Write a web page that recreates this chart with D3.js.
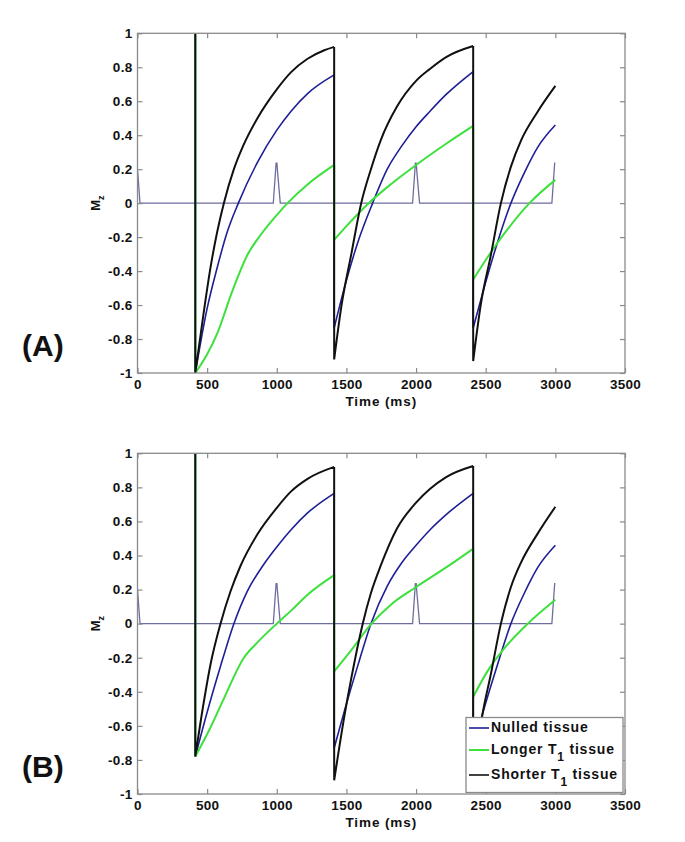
<!DOCTYPE html>
<html>
<head>
<meta charset="utf-8">
<script src="https://cdn.jsdelivr.net/npm/d3@7"></script>
<style>
  html, body { margin: 0; padding: 0; background: #fff; }
  svg { display: block; }
  text { font-family: "Liberation Sans", Arial, sans-serif; font-weight: bold; fill: #111; }
</style>
</head>
<body>
<svg id="chart" width="685" height="842"></svg>
<script>
// ---------------- data (time in ms, Mz) ----------------
const xTicks = [0, 500, 1000, 1500, 2000, 2500, 3000, 3500];
const yTicks = [-1, -0.8, -0.6, -0.4, -0.2, 0, 0.2, 0.4, 0.6, 0.8, 1];
const seriesNames = ["Nulled tissue", "Longer T1 tissue", "Shorter T1 tissue"];

// readout pulses (same in both panels)
const readout = [[0,0.2],[18,0],[975,0],[995,0.235],[1001,0.235],[1006,0.18],[1025,0],
  [1975,0],[1995,0.235],[2001,0.235],[2006,0.18],[2025,0],[2975,0],[2995,0.235],[3000,0.235]];

// Panel (A)
const nulledA = [[415,1],[415,-1],
  [500,-0.62],[572,-0.38],[644,-0.17],[724,0],[861,0.24],[1000,0.43],[1101,0.54],[1221,0.645],[1412,0.755],
  [1412,-0.735],[1488,-0.49],[1582,-0.23],[1688,0],[1793,0.2],[1900,0.34],[2000,0.45],[2099,0.54],[2216,0.64],[2410,0.775],
  [2410,-0.735],[2488,-0.5],[2585,-0.23],[2681,0],[2778,0.18],[2874,0.33],[3000,0.46]];
const longerA = [[415,1],[415,-1],
  [500,-0.89],[571,-0.77],[680,-0.52],[786,-0.31],[900,-0.17],[1000,-0.07],[1077,0],[1221,0.11],[1412,0.225],
  [1412,-0.216],[1500,-0.135],[1660,0],[1817,0.11],[2000,0.225],[2216,0.35],[2410,0.455],
  [2410,-0.45],[2512,-0.32],[2633,-0.18],[2814,0],[3000,0.137]];
const shorterA = [[415,1],[415,-1],
  [476,-0.64],[524,-0.38],[572,-0.17],[620,0],[692,0.2],[760,0.34],[861,0.5],[1000,0.67],[1101,0.77],[1221,0.85],[1341,0.9],[1412,0.92],
  [1412,-0.92],[1465,-0.6],[1535,-0.3],[1606,0],[1676,0.2],[1746,0.37],[1864,0.57],[2000,0.72],[2099,0.79],[2216,0.86],[2410,0.925],
  [2410,-0.93],[2464,-0.6],[2536,-0.31],[2609,0],[2681,0.215],[2754,0.37],[2874,0.54],[3000,0.69]];

// Panel (B)
const nulledB = [[415,1],[415,-0.78],
  [500,-0.52],[596,-0.25],[692,0],[788,0.19],[900,0.34],[1000,0.45],[1101,0.55],[1221,0.65],[1412,0.765],
  [1412,-0.73],[1490,-0.5],[1582,-0.245],[1676,0],[1793,0.22],[1900,0.36],[2000,0.46],[2099,0.55],[2216,0.64],[2410,0.765],
  [2410,-0.73],[2488,-0.5],[2585,-0.24],[2681,0],[2778,0.18],[2874,0.33],[3000,0.46]];
const longerB = [[415,1],[415,-0.78],
  [524,-0.61],[620,-0.44],[764,-0.2],[861,-0.11],[1000,0],[1101,0.075],[1221,0.17],[1412,0.285],
  [1412,-0.28],[1535,-0.155],[1680,0],[1817,0.11],[2000,0.215],[2216,0.33],[2410,0.44],
  [2410,-0.43],[2512,-0.28],[2633,-0.145],[2802,0],[3000,0.14]];
const shorterB = [[415,1],[415,-0.78],
  [476,-0.46],[524,-0.24],[596,0],[668,0.19],[740,0.34],[861,0.525],[1000,0.68],[1101,0.775],[1221,0.85],[1412,0.92],
  [1412,-0.92],[1488,-0.53],[1535,-0.32],[1617,0],[1676,0.18],[1746,0.34],[1864,0.56],[2000,0.71],[2099,0.79],[2216,0.86],[2410,0.925],
  [2410,-0.92],[2476,-0.535],[2536,-0.3],[2609,0],[2681,0.215],[2754,0.36],[2874,0.53],[3000,0.686]];

// ---------------- styles / layout ----------------
const colors = { readout: "#6e6e9e", nulled: "#1e1e96", longer: "#3ee03e", shorter: "#111111" };
const frameLeft = 137.5, frameRight = 625;
const panels = [
  { id: "a", label: "(A)", top: 33.3, bottom: 373, nulled: nulledA, longer: longerA, shorter: shorterA, legend: false },
  { id: "b", label: "(B)", top: 453.3, bottom: 794, nulled: nulledB, longer: longerB, shorter: shorterB, legend: true }
];

const svg = d3.select("#chart");
const defs = svg.append("defs");
const x = d3.scaleLinear().domain([0, 3500]).range([frameLeft, frameRight]);

function splitRuns(pts) {
  const runs = [], verts = [];
  let cur = [pts[0]];
  for (let i = 1; i < pts.length; i++) {
    if (pts[i][0] === pts[i - 1][0]) {
      if (cur.length > 1) runs.push(cur);
      verts.push([pts[i - 1], pts[i]]); cur = [pts[i]];
    } else cur.push(pts[i]);
  }
  if (cur.length > 1) runs.push(cur);
  return { runs, verts };
}

const fontFam = '"Liberation Sans", Arial, sans-serif';

panels.forEach(p => {
  const y = d3.scaleLinear().domain([-1, 1]).range([p.bottom, p.top]);
  const g = svg.append("g");
  const fmt = d => String(+d.toFixed(1));

  defs.append("clipPath").attr("id", "clip-" + p.id).append("rect")
    .attr("x", frameLeft).attr("y", p.top).attr("width", frameRight - frameLeft).attr("height", p.bottom - p.top);

  // series
  const smooth = d3.line().x(d => x(d[0])).y(d => y(d[1])).curve(d3.curveMonotoneX);
  const straight = d3.line().x(d => x(d[0])).y(d => y(d[1]));
  function pathFor(pts) {
    const { runs, verts } = splitRuns(pts);
    return runs.map(r => smooth(r)).join("") + verts.map(v => straight(v)).join("");
  }
  const plotG = g.append("g").attr("clip-path", `url(#clip-${p.id})`);
  plotG.append("path").attr("d", straight(readout)).attr("fill", "none")
    .attr("stroke", colors.readout).attr("stroke-width", 1.3);
  [["nulled", 1.6], ["longer", 2], ["shorter", 2]].forEach(([k, w]) => {
    plotG.append("path").attr("d", pathFor(p[k])).attr("fill", "none")
      .attr("stroke", colors[k]).attr("stroke-width", w).attr("stroke-linejoin", "round");
  });

  // frame on top
  g.append("rect").attr("x", frameLeft).attr("y", p.top)
    .attr("width", frameRight - frameLeft).attr("height", p.bottom - p.top)
    .attr("fill", "none").attr("stroke", "#8a8a8a").attr("stroke-width", 1.3);

  // axes (ticks inward)
  const axB = d3.axisBottom(x).tickValues(xTicks).tickSize(-5).tickPadding(6).tickFormat(d3.format("d"));
  const axT = d3.axisTop(x).tickValues(xTicks).tickSize(-5).tickFormat("");
  const axL = d3.axisLeft(y).tickValues(yTicks).tickSize(-5).tickPadding(5).tickFormat(fmt);
  const axR = d3.axisRight(y).tickValues(yTicks).tickSize(-5).tickFormat("");
  [[axB, `translate(0,${p.bottom})`], [axT, `translate(0,${p.top})`],
   [axL, `translate(${frameLeft},0)`], [axR, `translate(${frameRight},0)`]].forEach(([ax, tr]) => {
    const a = g.append("g").attr("transform", tr).call(ax);
    a.select(".domain").remove();
    a.selectAll("line").attr("stroke", "#8a8a8a").attr("stroke-width", 1.2);
    a.selectAll("text").attr("font-size", 13.5).attr("font-weight", "bold")
      .attr("font-family", fontFam).attr("fill", "#111").attr("letter-spacing", 0.3);
  });

  // axis titles
  g.append("text").attr("x", (frameLeft + frameRight) / 2).attr("y", p.bottom + 33)
    .attr("text-anchor", "middle").attr("font-size", 13.5).attr("letter-spacing", 0.9).text("Time (ms)");
  const yl = g.append("text").attr("transform", `translate(100,${y(0)}) rotate(-90)`)
    .attr("text-anchor", "middle").attr("font-size", 13);
  yl.append("tspan").text("M");
  yl.append("tspan").attr("dy", 4).attr("font-size", 9).text("z");

  // panel label
  g.append("text").attr("x", 22).attr("y", (p.top + p.bottom) / 2 + 153)
    .attr("font-size", 30).text(p.label);

  // legend
  if (p.legend) {
    const lg = g.append("g");
    lg.append("rect").attr("x", 466).attr("y", 717.5).attr("width", 157).attr("height", 75)
      .attr("fill", "#fff").attr("stroke", "#8a8a8a").attr("stroke-width", 1.3);
    const rows = [{ k: "nulled", yc: 727, parts: ["Nulled tissue"] },
                  { k: "longer", yc: 749, parts: ["Longer T", "1", " tissue"] },
                  { k: "shorter", yc: 774, parts: ["Shorter T", "1", " tissue"] }];
    rows.forEach(r => {
      lg.append("line").attr("x1", 469).attr("x2", 489).attr("y1", r.yc + 1).attr("y2", r.yc + 1)
        .attr("stroke", colors[r.k]).attr("stroke-width", r.k === "longer" ? 2 : 1.6);
      const t = lg.append("text").attr("x", 491).attr("y", r.yc + 5)
        .attr("font-size", 14).attr("letter-spacing", 0.8);
      if (r.parts.length === 1) t.text(r.parts[0]);
      else {
        t.append("tspan").text(r.parts[0]);
        t.append("tspan").attr("dy", 7).attr("font-size", 12).text(r.parts[1]);
        t.append("tspan").attr("dy", -7).text(r.parts[2]);
      }
    });
  }
});
</script>
</body>
</html>
